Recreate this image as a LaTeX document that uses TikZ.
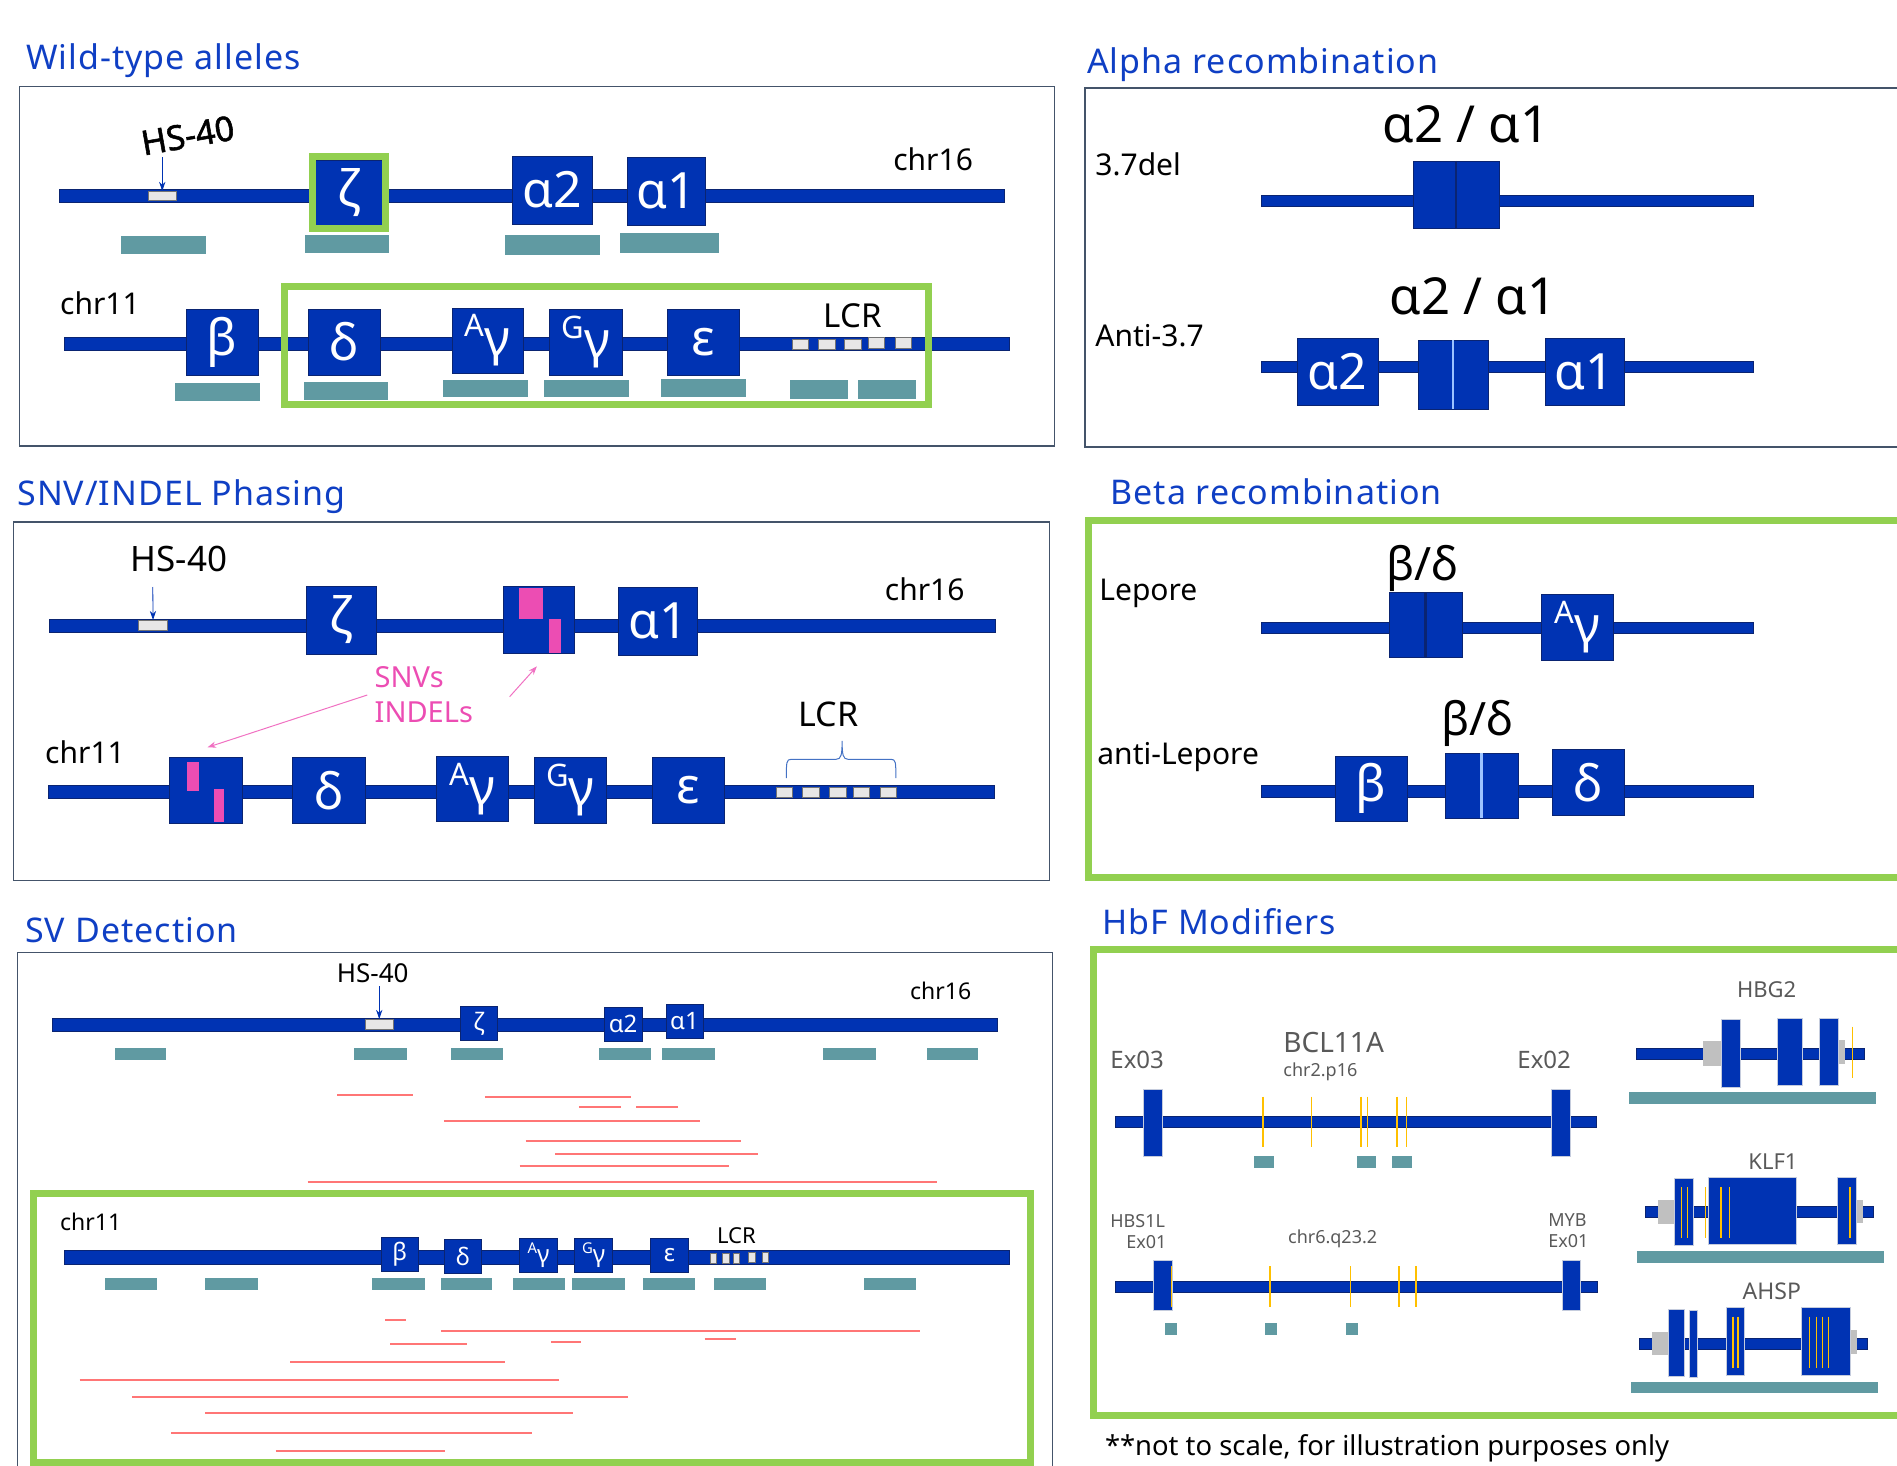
\documentclass[tikz,border=0pt]{standalone}
\usepackage{xcolor}
\usepackage{fontspec}
\setmainfont{Noto Sans}
\newfontfamily\headfont[LetterSpace=3]{Noto Sans}
\newfontfamily\hsfont[FakeBold=1.6]{Noto Sans}
\usetikzlibrary{arrows.meta}
\definecolor{cGene}{HTML}{0033B3}
\definecolor{cNavy}{HTML}{0A2472}
\definecolor{cEdge}{HTML}{C5CCDD}
\definecolor{cHead}{HTML}{0F3FC4}
\definecolor{cPanel}{HTML}{44546A}
\definecolor{cGreen}{HTML}{92D050}
\definecolor{cProbe}{HTML}{609AA2}
\definecolor{cRead}{HTML}{FF7676}
\definecolor{cPink}{HTML}{EC4DB3}
\definecolor{cVar}{HTML}{FFC000}
\definecolor{cMark}{HTML}{E7E6E6}
\definecolor{cGrey}{HTML}{595959}
\definecolor{cUtr}{HTML}{C0C0C0}
\definecolor{cSplit}{HTML}{9DC3FF}
\definecolor{cBrace}{HTML}{4472C4}
\newcommand{\fs}[1]{\fontsize{#1}{#1}\selectfont}
\newcommand{\upg}[1]{\raisebox{.38em}{\scalebox{.62}{#1}}γ}
\def\wu{0.5}
% style, name, left, top, right, bottom, text
\newcommand{\blk}[7]{\node[#1, minimum width={(#5-#3)*\wu pt}, minimum height={(#6-#4)*0.5pt}]
  (#2) at ({(#3+#5)/2},{(#4+#6)/2}) {#7};}
\tikzset{
  plainblk/.style={rectangle, inner sep=0pt, outer sep=0pt},
  dna/.style={plainblk, fill=cGene, draw=cNavy, line width=0.4pt},
  genebox/.style={plainblk, fill=cGene, draw=cNavy, line width=0.3pt, text=white, font=\fs{25}},
  minibox/.style={genebox, font=\fs{12}},
  exon/.style={plainblk, fill=cGene, draw=cEdge, line width=0.5pt},
  utr/.style={plainblk, fill=cUtr},
  probe/.style={plainblk, fill=cProbe},
  hsmark/.style={plainblk, fill=cMark, draw=black!55, line width=0.3pt},
  pinkbar/.style={plainblk, fill=cPink},
  panel/.style={plainblk, draw=cPanel, line width=0.6pt},
  hilite/.style={plainblk, draw=cGreen, line width=3.5pt},
  openpanel/.style={draw=cPanel, line width=0.6pt},
  openhilite/.style={draw=cGreen, line width=3.5pt},
  ttl/.style={anchor=base west, inner sep=0pt, text=cHead, font=\headfont\fs{17}, yshift=-0.8pt},
  lbl/.style={anchor=base west, inner sep=0pt, font=\fs{#1}, yshift=-0.3pt},
  gry/.style={lbl=#1, text=cGrey},
  readline/.style={draw=cRead, line width=0.9pt},
  varline/.style={draw=cVar, line width=0.6pt},
  hsarr/.style={-{Stealth[length=1.6mm,width=1.1mm]}, draw=cGene, line width=0.4pt},
  pkarr/.style={-{Stealth[length=1.5mm,width=1.1mm]}, draw=cPink!80, line width=0.5pt},
  cutline/.style={line width=1.3pt},
}
\begin{document}
\begin{tikzpicture}[x=0.5pt, y=-0.5pt]
\useasboundingbox (0,0) rectangle (1897,1466);
\begin{scope}[x=0.4977pt]
\def\wu{0.4977}
% ---- wild-type alleles
\node[ttl] (wTitle) at (25.8,68) {Wild-type alleles};
\blk{panel}{wFrame}{19.8}{86.7}{1059}{446}{}
\blk{dna}{wBar16}{60}{189}{1009}{202}{}
\blk{dna}{wBar11}{65}{337}{1014}{350}{}
\foreach \n/\xa/\ya/\xb/\yb/\txt in {wZeta/317/160/384/225/ζ, wA2/515/156/595/224/α2, wA1/630/157/709/225/α1,
    wBeta/187/309/259.5/375/β, wDelta/310/309/382/375/δ, wAg/454/308/526/373/\upg{A},
    wGg/552/309/625/375/\upg{G}, wEps/670.5/309/743/375/ε}
  {\blk{genebox}{\n}{\xa}{\ya}{\xb}{\yb}{\txt}}
\blk{hsmark}{wHS}{149}{191}{177}{200}{}
\foreach \xa/\ya/\xb/\yb [count=\k] in {796/339/812.5/349, 822/339/839/349, 848.5/339/865/349, 872/337/888.5/348, 899.5/337/916/348}
  {\blk{hsmark}{wL\k}{\xa}{\ya}{\xb}{\yb}{}}
\foreach \xa/\ya/\xb/\yb [count=\k] in {122/236/207/254, 306/235/391/253, 507/235/603/255, 623/233/722/253,
    176/383/261.5/401, 305/382/390/400, 445/380/530.5/397, 547/380/632/397, 664/379/749/397, 794/380/852/399, 862/380/920.5/399}
  {\blk{probe}{wP\k}{\xa}{\ya}{\xb}{\yb}{}}
\blk{hilite}{wGreenA}{314}{156.5}{387}{229}{}
\blk{hilite}{wGreenB}{286}{287}{933}{405}{}
\node[lbl=17, font=\hsfont\fs{17}, rotate=10] (wHSlbl) at (144,155) {HS-40};
\coordinate (wHStop) at (163,157);
\draw[hsarr] (wHStop) -- (wHS.north);
\node[lbl=15] (wChr16) at (897,170) {chr16};
\node[lbl=15] (wChr11) at (60,314) {chr11};
\node[lbl=16.5] (wLCR) at (827,327) {LCR};
% ---- snv and indel phasing
\node[ttl] (sTitle) at (17,504) {SNV/INDEL Phasing};
\blk{panel}{sFrame}{13.7}{522}{1054}{880.7}{}
\blk{dna}{sBar16}{50}{619}{1000}{632}{}
\blk{dna}{sBar11}{49}{785.7}{998.6}{798.7}{}
\foreach \n/\xa/\ya/\xb/\yb/\txt in {sZeta/308/586/378/654/ζ, sVar16/505.4/586/577/653/{}, sA1/621/587/701/655/α1,
    sVar11/170.5/757.7/243/823.3/{}, sDelta/294/757.7/367/823.3/δ, sAg/438/756/511/821.7/\upg{A},
    sGg/537/757.7/609/823.3/\upg{G}, sEps/655/757.7/727.5/823.3/ε}
  {\blk{genebox}{\n}{\xa}{\ya}{\xb}{\yb}{\txt}}
\blk{pinkbar}{sSnvA}{521.7}{588}{545.5}{619}{}
\blk{pinkbar}{sIndelA}{552}{619}{564}{652.7}{}
\blk{pinkbar}{sSnvB}{188}{761.7}{200}{791}{}
\blk{pinkbar}{sIndelB}{215}{789}{225}{821.7}{}
\blk{hsmark}{sHS}{139}{620}{168.5}{630}{}
\foreach \xa/\xb [count=\k] in {780/796, 806/823, 833.5/850, 857/873, 884/900}
  {\blk{hsmark}{sL\k}{\xa}{787}{\xb}{797}{}}
\node[lbl=17.5] (sHSlbl) at (131,570.7) {HS-40};
\coordinate (sHStop) at (153.5,587);
\draw[hsarr] (sHStop) -- (sHS.north);
\node[lbl=15] (sChr16) at (888.6,600) {chr16};
\node[lbl=15] (sChr11) at (45,762.7) {chr11};
\node[lbl=14.5, text=cPink] (sSnv) at (376,687) {SNVs};
\node[lbl=14.5, text=cPink] (sIndel) at (376,722) {INDELs};
\node[lbl=17] (sLCR) at (802,726) {LCR};
\coordinate (sArrA) at (369,695);
\coordinate (sArrAend) at (208.5,747.3);
\coordinate (sArrB) at (512,696.7);
\coordinate (sArrBend) at (539.4,666.3);
\draw[pkarr] (sArrA) -- (sArrAend);
\draw[pkarr] (sArrB) -- (sArrBend);
\draw[draw=cBrace, line width=0.5pt] (790,778) .. controls (790,762) and (790,759.3) .. (795,759.3)
  -- (840,759.3) .. controls (845,759.3) and (846,755) .. (846,741) .. controls (846,755) and (847,759.3) .. (852,759.3)
  -- (895,759.3) .. controls (900,759.3) and (900,762) .. (900,778);
% ---- sv detection
\node[ttl] (vTitle) at (25,940.7) {SV Detection};
\draw[openpanel] (17.8,1466) -- (17.8,952.3) -- (1057,952.3) -- (1057,1466);
\blk{dna}{vBar16}{53}{1018}{1002}{1031}{}
\foreach \n/\xa/\ya/\xb/\yb/\txt in {vZeta/462/1006.7/500/1040/ζ, vA2/607/1007/645/1041.7/α2, vA1/669/1004.7/706.5/1038.3/α1}
  {\blk{minibox}{\n}{\xa}{\ya}{\xb}{\yb}{\txt}}
\blk{hsmark}{vHS}{367}{1019}{395}{1029}{}
\foreach \xa/\xb [count=\k] in {115.5/167, 356/409, 453/505, 602/654, 665/718, 827/880, 931/983}
  {\blk{probe}{vP\k}{\xa}{1048}{\xb}{1060}{}}
\node[lbl=13] (vHSlbl) at (338,982) {HS-40};
\coordinate (vHStop) at (381,986);
\draw[hsarr] (vHStop) -- (vHS.north);
\node[lbl=11.5] (vChr16) at (914,999) {chr16};
\foreach \xa/\xb/\ya in {339/415/1095.3, 487/634/1097, 581.5/623.6/1107.3, 639/681.4/1107.3, 446/703/1121,
    528/744/1140.7, 558/762/1153.7, 522/732/1165.7, 309/941.6/1182}
  \draw[readline] (\xa,\ya) -- (\xb,\ya);
\blk{hilite}{vGreen}{33.5}{1193.5}{1035}{1462.5}{}
\node[lbl=11.5] (vChr11) at (60,1230) {chr11};
\blk{dna}{vBar11}{64.5}{1250}{1013.6}{1264}{}
\foreach \n/\xa/\ya/\xb/\yb/\txt in {vBeta/383/1237/420/1271/β, vDelta/446/1239/484/1273/δ, vAg/522/1238/560/1272/\upg{A},
    vGg/577.4/1238/615.5/1272/\upg{G}, vEps/653.5/1238/691.5/1272/ε}
  {\blk{minibox}{\n}{\xa}{\ya}{\xb}{\yb}{\txt}}
\foreach \xa/\ya/\xb/\yb [count=\k] in {714/1253/720/1263, 725.5/1253/733/1263, 737/1253/743/1263, 752/1252/759/1262, 766/1252/772/1262}
  {\blk{hsmark}{vL\k}{\xa}{\ya}{\xb}{\yb}{}}
\node[lbl=11] (vLCR) at (720,1242.7) {LCR};
\foreach \xa/\xb [count=\k] in {105/157.6, 206/259, 374/427, 443/494.6, 515.6/568, 575/628, 646/698, 717/770, 868/920.5}
  {\blk{probe}{vQ\k}{\xa}{1278}{\xb}{1290}{}}
\foreach \xa/\xb/\ya in {387/408/1319.7, 443/924/1330.7, 708/739/1338.7, 553.7/584/1342, 392/469/1344.3, 291.4/507.5/1362.3,
    80/562/1379.7, 133/631/1397, 206/576/1413.3, 172/534/1433, 277/447/1451}
  \draw[readline] (\xa,\ya) -- (\xb,\ya);
\end{scope}
% ---- alpha recombination
\node[ttl] (aTitle) at (1086.7,72) {Alpha recombination};
\draw[openpanel] (1897,88) -- (1085,88) -- (1085,447) -- (1897,447);
\node[lbl=15] (a37lbl) at (1095,175) {3.7del};
\node[lbl=15] (aAntilbl) at (1095,346) {Anti-3.7};
\node[lbl=25.5] (aHyb) at (1382,141.7) {α2 / α1};
\node[lbl=25.5] (aHybB) at (1389,314) {α2 / α1};
\blk{dna}{aBarA}{1261}{195}{1753.5}{206}{}
\blk{dna}{aBarB}{1261}{361}{1753.5}{372}{}
\foreach \n/\xa/\ya/\xb/\yb/\txt in {aFus/1413/161/1499/228/{}, aDup2/1297/338/1378/405/α2, aDup/1418/340/1488/409/{}, aDup1/1545/338/1624/405/α1}
  {\blk{genebox}{\n}{\xa}{\ya}{\xb}{\yb}{\txt}}
\draw[cutline, draw=cNavy] (aFus.north) -- (aFus.south);
\draw[cutline, draw=cSplit] (aDup.north) -- (aDup.south);
% ---- beta recombination
\node[ttl] (bTitle) at (1110,503) {Beta recombination};
\draw[openhilite] (1897,520) -- (1088.5,520) -- (1088.5,877.5) -- (1897,877.5);
\node[lbl=15] (bLep) at (1099,600) {Lepore};
\node[lbl=15] (bAnti) at (1097,764) {anti-Lepore};
\node[lbl=23] (bHyb) at (1386,580) {β/δ};
\node[lbl=23] (bHybB) at (1441,735) {β/δ};
\blk{dna}{bBarA}{1261}{622}{1753.5}{633}{}
\blk{dna}{bBarB}{1261}{785.7}{1753.5}{797}{}
\foreach \n/\xa/\ya/\xb/\yb/\txt in {bFus/1389/592.7/1462/657.7/{}, bAg/1541/594.7/1613/660/\upg{A},
    bBeta/1335/756/1407/821.7/β, bDup/1445/753/1518/818/{}, bDelta/1552/749.7/1624/815/δ}
  {\blk{genebox}{\n}{\xa}{\ya}{\xb}{\yb}{\txt}}
\draw[cutline, draw=cNavy] (bFus.north) -- (bFus.south);
\draw[cutline, draw=cSplit] (bDup.north) -- (bDup.south);
% ---- hbf modifiers
\node[ttl] (hTitle) at (1102,933) {HbF Modifiers};
\draw[openhilite] (1897,949) -- (1093.5,949) -- (1093.5,1415) -- (1897,1415);
\node[gry=14] (hBcl) at (1283,1052) {BCL11A};
\node[gry=9] (hChr2) at (1283,1075.7) {chr2.p16};
\node[gry=12] (hEx03) at (1110,1068) {Ex03};
\node[gry=12] (hEx02) at (1517,1068) {Ex02};
\node[gry=9] (hHbs) at (1110,1226.7) {HBS1L};
\node[gry=9] (hHbsEx) at (1126,1247.7) {Ex01};
\node[gry=9] (hChr6) at (1287.7,1242.7) {chr6.q23.2};
\node[gry=9] (hMyb) at (1548,1225.7) {MYB};
\node[gry=9] (hMybEx) at (1548,1247) {Ex01};
\node[gry=11] (hHbg) at (1736.7,997.3) {HBG2};
\node[gry=11] (hKlf) at (1748,1169.3) {KLF1};
\node[gry=11.5] (hAhsp) at (1742.3,1299.3) {AHSP};
\foreach \n/\xa/\ya/\xb/\yb in {hBarA/1115/1116.7/1596.7/1127.7, hBarB/1115.7/1281.3/1597.7/1292.3, hBarC/1636.3/1048.7/1864.3/1059.7,
    hBarD/1645/1206.7/1873/1217.7, hBarE/1639/1338/1867.7/1349}
  {\blk{dna}{\n}{\xa}{\ya}{\xb}{\yb}{}}
\foreach \n/\xa/\ya/\xb/\yb in {hUa/1703.3/1041.3/1721.7/1066, hUb/1838.3/1040.3/1845/1064.3, hUc/1658/1200.3/1676/1224, hUd/1854.7/1199.7/1862.7/1223.3,
    hUe/1652/1332/1670.3/1355.3, hUf/1850/1330/1857/1353.7}
  {\blk{utr}{\n}{\xa}{\ya}{\xb}{\yb}{}}
\foreach \n/\xa/\ya/\xb/\yb in {hEa/1143.7/1089/1162.7/1156, hEb/1551/1089/1570/1156, hEc/1153.3/1260.7/1172/1310.7, hEd/1562.3/1260.7/1580.7/1310.7,
    hEe/1721/1019.7/1740.3/1087, hEf/1777/1018/1802.7/1085, hEg/1819.3/1018/1838.3/1085,
    hEh/1674.7/1178.7/1693.7/1245, hEi/1708.3/1177/1796.7/1244, hEj/1837.3/1177/1856.3/1244,
    hEk/1668.7/1309/1684.7/1376.3, hEl/1689.3/1310/1697/1377, hEm/1726.3/1307.3/1744.7/1375, hEn/1801/1307.3/1850.3/1375}
  {\blk{exon}{\n}{\xa}{\ya}{\xb}{\yb}{}}
\foreach \xa/\ya/\xb/\yb [count=\k] in {1254/1155.7/1274/1167.7, 1357/1155.7/1376.3/1167.7, 1392/1155.7/1411.7/1167.7,
    1165.3/1323.3/1177/1335, 1265/1323.3/1276.7/1335, 1346/1323.3/1357.7/1335,
    1628.7/1092.3/1875.7/1103.7, 1637.3/1251/1884.3/1262.7, 1631/1381.7/1878/1393.3}
  {\blk{probe}{hP\k}{\xa}{\ya}{\xb}{\yb}{}}
% yellow marks: x at a given top and bottom
\foreach \xa in {1263, 1311.3, 1361, 1367.7, 1397, 1406.7}
  \draw[varline] (\xa,1096.7) -- (\xa,1147.3);
\foreach \xa in {1171.3, 1270, 1350.7, 1399, 1416}
  \draw[varline] (\xa,1266.3) -- (\xa,1307.3);
\draw[varline] (1852.3,1026.7) -- (1852.3,1077.7);
\foreach \xa in {1681.3, 1687.3, 1705.3, 1721, 1729.7, 1850}
  \draw[varline] (\xa,1187) -- (\xa,1238.3);
\foreach \xa in {1733, 1738, 1809.7, 1816.3, 1822.3, 1828.7}
  \draw[varline] (\xa,1316.7) -- (\xa,1368.3);
\node[lbl=13.7] (hNote) at (1104.6,1455) {**not to scale, for illustration purposes only};
\end{tikzpicture}
\end{document}
